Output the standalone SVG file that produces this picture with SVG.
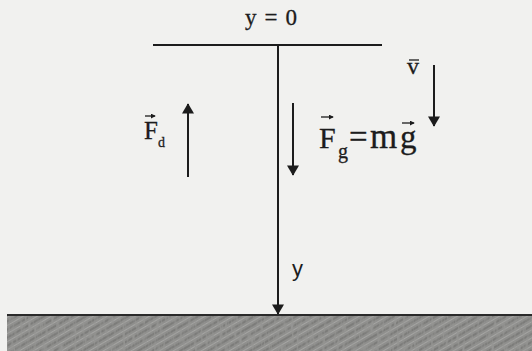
<svg xmlns="http://www.w3.org/2000/svg" width="532" height="351" viewBox="0 0 532 351">
<defs>
<style>
.ln{stroke:#1c1c1c;stroke-width:2;fill:none}
.t{font-family:"Liberation Serif","Times New Roman",serif;fill:#1c1c1c;stroke:#1c1c1c;stroke-width:0.3}
.s{font-family:"Liberation Sans",Arial,sans-serif;fill:#1c1c1c}
.vec{stroke:#1c1c1c;stroke-width:1.3}
</style>
<marker id="ah" viewBox="0 0 12 14" refX="11" refY="7" markerWidth="13" markerHeight="12" markerUnits="userSpaceOnUse" orient="auto">
<path d="M0,0 L12,7 L0,14 Z" fill="#1c1c1c"/>
</marker>
<marker id="sv" viewBox="0 0 6 6" refX="5" refY="3" markerWidth="5" markerHeight="5" markerUnits="userSpaceOnUse" orient="auto">
<path d="M0,0 L6,3 L0,6 Z" fill="#1c1c1c"/>
</marker>
<pattern id="grd" width="7" height="7" patternUnits="userSpaceOnUse" patternTransform="rotate(-30)">
<rect width="7" height="7" fill="#8e8e8c"/>
<line x1="0" y1="2" x2="7" y2="2" stroke="#747472" stroke-width="1.4"/>
<line x1="0" y1="5.5" x2="7" y2="5.5" stroke="#a6a6a4" stroke-width="1"/>
</pattern>
<filter id="noise" x="0" y="0" width="100%" height="100%">
<feTurbulence type="fractalNoise" baseFrequency="0.35 0.09" numOctaves="2" seed="4"/>
<feColorMatrix type="matrix" values="0 0 0 0 0.3  0 0 0 0 0.3  0 0 0 0 0.29  0 0 0 2.6 -1.1"/>
<feComposite in2="SourceGraphic" operator="in"/>
</filter>
</defs>
<rect width="532" height="351" fill="#f1f1ef"/>
<g id="ground">
<rect x="7" y="315" width="525" height="36" fill="url(#grd)"/>
<rect x="7" y="315" width="525" height="36" fill="#000" filter="url(#noise)"/>
<line x1="7" y1="315" x2="532" y2="315" stroke="#2a2a2a" stroke-width="2"/>
</g>
<g id="origin">
<line class="ln" x1="153" y1="45" x2="382" y2="45"/>
<text class="t" x="245" y="25" font-size="23" textLength="52" lengthAdjust="spacing">y = 0</text>
</g>
<g id="connectors">
<line class="ln" x1="278" y1="45" x2="278" y2="314" marker-end="url(#ah)"/>
<line class="ln" x1="188" y1="177" x2="188" y2="104" marker-end="url(#ah)"/>
<line class="ln" x1="293" y1="103" x2="293" y2="175" marker-end="url(#ah)"/>
<line class="ln" x1="434" y1="65" x2="434" y2="126" marker-end="url(#ah)"/>
</g>
<g id="axis-label">
<text class="s" x="292" y="276" font-size="22">y</text>
</g>
<g id="Fd">
<text class="t" x="144" y="139" font-size="25">F</text>
<text class="t" x="158" y="147" font-size="14">d</text>
<line class="vec" x1="145" y1="116" x2="155" y2="116" marker-end="url(#sv)"/>
</g>
<g id="Fg">
<text class="t" x="319" y="148" font-size="30">F</text>
<text class="t" x="338" y="158" font-size="20">g</text>
<text class="t" x="349" y="148" font-size="33">=</text>
<text class="t" x="370" y="148" font-size="35">m</text>
<text class="t" x="400" y="148" font-size="33">g</text>
<line class="vec" x1="321" y1="117" x2="333" y2="117" marker-end="url(#sv)"/>
<line class="vec" x1="402" y1="123" x2="414" y2="123" marker-end="url(#sv)"/>
</g>
<g id="v">
<text class="t" x="407" y="74" font-size="24">v</text>
<line x1="409" y1="60" x2="419" y2="60" stroke="#1c1c1c" stroke-width="1.3"/>
</g>
</svg>
